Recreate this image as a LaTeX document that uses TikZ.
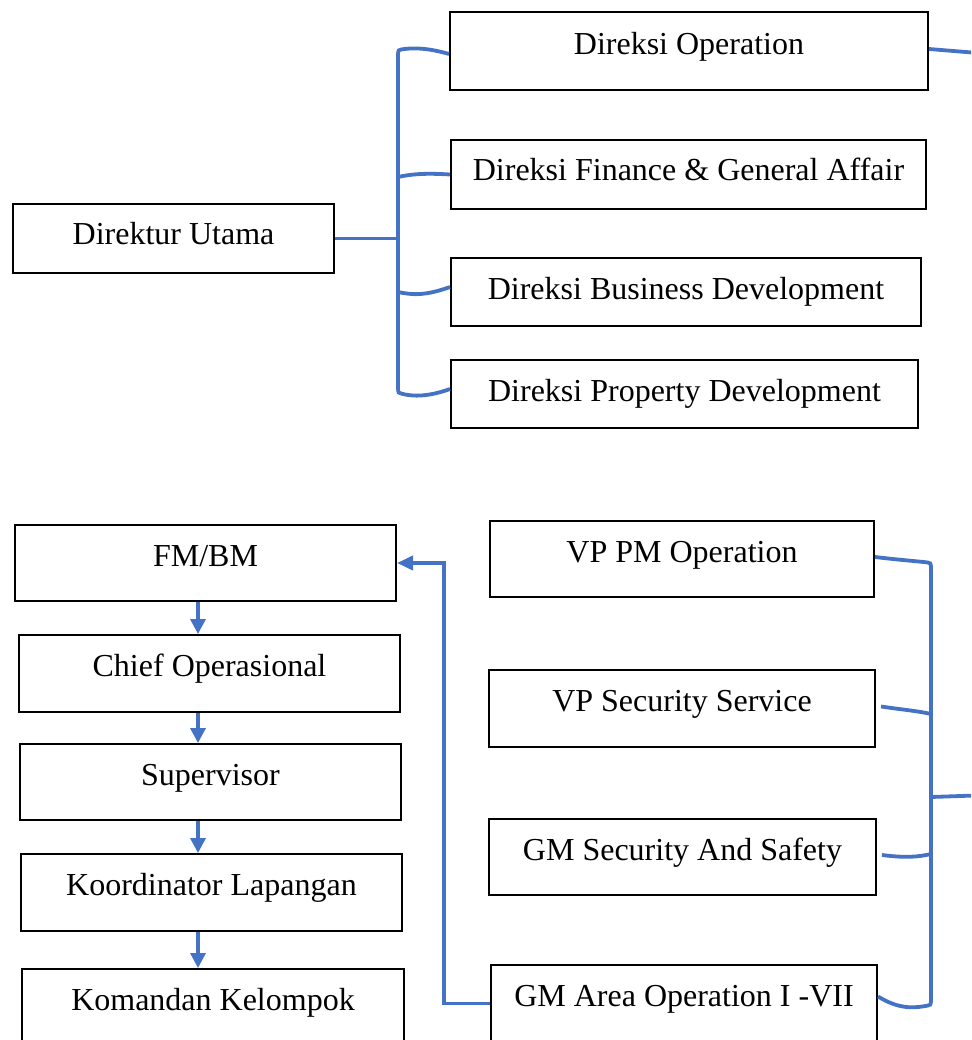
\documentclass[tikz,border=0pt]{standalone}
\usepackage{fontspec}
\setmainfont{Liberation Serif}
\usetikzlibrary{arrows.meta}

\definecolor{linkblue}{RGB}{68,114,196}

\tikzset{
  orgbox/.style={draw, line width=2pt, anchor=north west, inner xsep=0pt, inner ysep=0pt,
    text height=41pt, font=\fontsize{32}{38}\selectfont},
  link/.style={draw=linkblue, line width=3.8pt},
  downarrow/.style={link, line width=3.4pt, -{Triangle[length=15pt,width=15pt]}},
}

\begin{document}
\begin{tikzpicture}[x=1pt,y=1pt,yscale=-1,xscale=1]
  \useasboundingbox (0,0) rectangle (971,1040);
  \clip (0,0) rectangle (971,1040);

  % Direksi (top)
  \node[orgbox, minimum width=321pt, text depth=28pt] (dirut) at (12,203) {Direktur Utama};
  \node[orgbox, minimum width=478pt, text height=43pt, text depth=35pt] (dops) at (449,11) {Direksi Operation};
  \node[orgbox, minimum width=475pt, text depth=28pt] (dfin) at (450,139) {Direksi Finance \& General Affair};
  \node[orgbox, minimum width=470pt, text depth=27pt] (dbis) at (450,257) {Direksi Business Development};
  \node[orgbox, minimum width=467pt, text depth=27pt] (dprop) at (450,359) {Direksi Property Development};

  % bracket Direktur Utama -> Direksi
  \coordinate (tt) at (398,54);
  \coordinate (tb) at (398,389);
  \draw[link] ([yshift=3pt]dops.west) .. controls (425,47) and (410,48) .. (401,49.5)
    .. controls (398.5,50) .. (tt) -- (tb)
    .. controls (398.5,393) .. (401,393.5) .. controls (410,396) and (425,398) .. ([yshift=-5pt]dprop.west);
  \draw[link] (dirut.east) -- (dirut.east -| tt);
  \draw[link] (dfin.west) .. controls (425,173) and (412,174) .. (398,177);
  \draw[link] ([yshift=-5pt]dbis.west) .. controls (425,296) and (412,295) .. (398,292);
  \draw[link] ([yshift=-2pt]dops.east) -- (990,54);

  % chain on the left
  \node[orgbox, minimum width=381pt, text depth=35pt] (fmbm) at (14,524) {FM/BM};
  \node[orgbox, minimum width=381pt, text depth=36pt] (chief) at (18,634) {Chief Operasional};
  \node[orgbox, minimum width=381pt, text depth=35pt] (spv) at (19,743) {Supervisor};
  \node[orgbox, minimum width=381pt, text depth=36pt] (korlap) at (20,853) {Koordinator Lapangan};
  \node[orgbox, minimum width=382pt, text depth=36pt] (danpok) at (21,968) {Komandan Kelompok};

  \coordinate (ax) at (198,0);
  \draw[downarrow] (ax |- fmbm.south) -- (ax |- chief.north);
  \draw[downarrow] (ax |- chief.south) -- (ax |- spv.north);
  \draw[downarrow] (ax |- spv.south) -- (ax |- korlap.north);
  \draw[downarrow] (ax |- korlap.south) -- (ax |- danpok.north);

  % VP / GM on the right
  \node[orgbox, minimum width=384pt, text depth=35pt] (vppm) at (489,520) {VP PM Operation};
  \node[orgbox, minimum width=386pt, text depth=36pt] (vpsec) at (488,669) {VP Security Service};
  \node[orgbox, minimum width=387pt, text depth=35pt] (gmsec) at (488,818) {GM Security And Safety};
  \node[orgbox, minimum width=386pt, text depth=36pt] (gmarea) at (490,964) {GM Area Operation I -VII};

  % bracket on the right
  \coordinate (rt) at (931,567);
  \coordinate (rb) at (931,1001);
  \draw[link] ([yshift=-2pt]vppm.east) .. controls (900,560) and (915,561) .. (928,562.5)
    .. controls (930.5,563) .. (rt) -- (rb)
    .. controls (930.5,1005) .. (928,1005.5) .. controls (915,1008) and (900,1010) .. ([yshift=-7pt]gmarea.east);
  \draw[link] ([xshift=5pt,yshift=-2pt]vpsec.east) .. controls (905,710) and (918,711) .. (931,714);
  \draw[link] ([xshift=5pt,yshift=-2pt]gmsec.east) .. controls (905,858) and (918,857) .. (931,854);
  \draw[link] (931,797) -- (990,795);

  % GM Area -> FM/BM
  \coordinate (up) at (444,0);
  \draw[link, -{Triangle[length=16pt,width=14pt]}] (gmarea.west) -| (up |- fmbm.east) -- (fmbm.east);
\end{tikzpicture}
\end{document}
